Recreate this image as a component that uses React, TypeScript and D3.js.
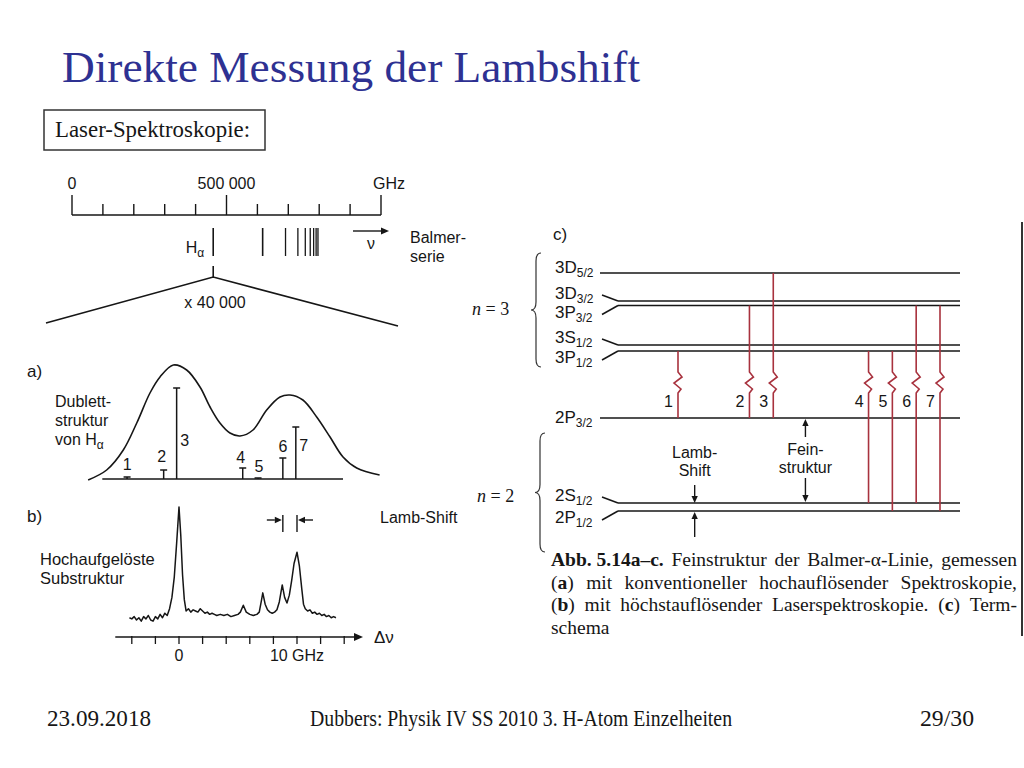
import React, { useEffect, useRef } from 'react';
import * as d3 from 'd3';

// ---------- overview: Balmer series (THz = 1000 GHz)
const overviewTicks = [0, 100, 200, 300, 400, 500, 600, 700, 800, 900, 1000];
const overviewMajor = [0, 500, 1000];
const overviewLabels = ['0', '500 000', 'GHz'];
const balmerLines = [457, 617, 691, 731, 755, 771, 782, 790, 796];
const halpha = 457;

// ---------- a) doublet structure (GHz, rel. intensity)
const envelopeGHz = [-7.7, -6.13, -4.72, -3.58, -2.46, -1.61, -0.48, 0.65, 1.78, 2.63, 3.47, 4.32, 5.17, 6.27, 7.43, 8.56, 9.41, 10.5, 11.67, 12.8, 13.9, 15.06, 17.0];
const envelopeVal = [-1, 9, 29, 56, 86, 102, 114, 109, 92, 72, 56, 46, 43, 49, 69, 82, 84, 79, 62, 42, 22, 11, 4];
const stickLabels = ['1', '2', '3', '4', '5', '6', '7'];
const stickGHz = [-4.4, -1.3, -0.2, 5.4, 6.7, 8.8, 9.9];
const stickVal = [2, 9, 91, 11, 1, 21, 52];

// ---------- b) laser spectrum
const specGHz = [-4.2, -4.0, -3.8, -3.6, -3.4, -3.2, -3.0, -2.8, -2.6, -2.4, -2.2, -2.0, -1.8, -1.6, -1.4, -1.2, -1.0, -0.8, -0.6, -0.4, -0.2, 0, 0.15, 0.3, 0.45, 0.6, 0.8, 1.0, 1.2, 1.4, 1.6, 1.8, 2.0, 2.2, 2.4, 2.6, 2.8, 3.0, 3.2, 3.5, 3.8, 4.1, 4.4, 4.7, 5.0, 5.2, 5.45, 5.7, 6.0, 6.3, 6.6, 6.8, 7.0, 7.1, 7.3, 7.5, 7.7, 7.9, 8.1, 8.3, 8.5, 8.75, 8.95, 9.15, 9.35, 9.55, 9.75, 10.0, 10.2, 10.4, 10.55, 10.7, 10.9, 11.1, 11.3, 11.5, 11.7, 11.9, 12.1, 12.3, 12.5, 12.7, 12.9, 13.1, 13.3];
const specVal = [2, 1, 3, 0, 2, -1, 3, 1, 4, 0, -1, 3, 1, 5, 2, 6, 4, 10, 20, 38, 68, 100, 75, 40, 18, 8, 10, 7, 9, 8, 7, 10, 8, 6, 7, 5, 6, 5, 4, 5, 4, 5, 3, 4, 5, 7, 13, 7, 5, 4, 5, 7, 18, 24, 14, 9, 7, 6, 7, 9, 16, 31, 20, 15, 22, 35, 50, 60, 48, 28, 14, 10, 8, 9, 6, 7, 5, 6, 4, 5, 3, 4, 2, 3, 2];
const specTicks = [-4, -2, 0, 2, 4, 6, 8, 10, 12, 14];
const specTickLabels: Record<number, string> = { 0: '0', 10: '10 GHz' };
const lambShiftGHz = [8.8, 10];

// ---------- c) term scheme (schematic energies)
const levelMain = ['3D', '3D', '3P', '3S', '3P', '2P', '2S', '2P'];
const levelSub = ['5/2', '3/2', '3/2', '1/2', '1/2', '3/2', '1/2', '1/2'];
const levelEnergy = [98.8, 87.6, 85.8, 70, 67.6, 40.8, 6.8, 3.6];
const levelSplit = [0, -1, 1, -1, 1, 0, -1, 1];
const transitionLabels = ['1', '2', '3', '4', '5', '6', '7'];
const transitionColumn = [0, 3, 4, 8, 9, 10, 11];
const transitionFrom = [4, 2, 0, 4, 4, 2, 2];
const transitionTo = [5, 5, 5, 6, 7, 6, 7];
const lambCol = 0.7;
const feinCol = 5.35;

// ---------- caption
const captionLines = [
  '*Abb.\u00a05.14a–c.* Feinstruktur der Balmer-α-Linie, gemessen',
  '(*a*) mit konventioneller hochauflösender Spektroskopie,',
  '(*b*) mit höchstauflösender Laserspektroskopie. (*c*) Term-',
  'schema',
];

const sans = '"Liberation Sans", Arial, Helvetica, sans-serif';
const serif = '"Liberation Serif", "Times New Roman", serif';
const ink = '#161616';
const red = '#a8323e';
const sw = 1.6;

const xTop = d3.scaleLinear().domain([0, 1000]).range([72, 381]);
const xG = d3.scaleLinear().domain([0, 10]).range([179, 297]);
const yA = d3.scaleLinear().domain([0, 100]).range([479, 379]);
const yB = d3.scaleLinear().domain([0, 100]).range([620, 507]);
const yE = d3.scaleLinear().domain([0, 100]).range([520, 270]);
const xCol = d3.scaleLinear().domain([0, 11]).range([678, 940]);

const capLeft = 551;
const capRight = 1017;

function Arrow({ x1, y1, x2, y2, color = ink, size = 7 }: any) {
  const a = Math.atan2(y2 - y1, x2 - x1);
  const w = size * 0.45;
  const bx = x2 - size * Math.cos(a);
  const by = y2 - size * Math.sin(a);
  const p = [
    [x2, y2],
    [bx + w * Math.sin(a), by - w * Math.cos(a)],
    [bx - w * Math.sin(a), by + w * Math.cos(a)],
  ];
  return (
    <g>
      <line x1={x1} y1={y1} x2={bx} y2={by} stroke={color} strokeWidth={1.4} />
      <path d={`M${p[0]}L${p[1]}L${p[2]}Z`} fill={color} />
    </g>
  );
}

function bracePath(x: number, y0: number, y1: number, w = 5) {
  const m = (y0 + y1) / 2;
  return `M${x + w},${y0} Q${x},${y0} ${x},${y0 + w * 1.6} L${x},${m - w * 1.6} Q${x},${m} ${x - w},${m} Q${x},${m} ${x},${m + w * 1.6} L${x},${y1 - w * 1.6} Q${x},${y1} ${x + w},${y1}`;
}

function RichWord({ word }: { word: string }) {
  const parts = word.split('*');
  return (
    <>
      {parts.map((p, i) =>
        p ? (
          <tspan key={i} fontWeight={i % 2 === 1 ? 'bold' : 'normal'}>
            {p}
          </tspan>
        ) : null
      )}
    </>
  );
}

function Caption() {
  const ref = useRef<SVGGElement>(null);
  useEffect(() => {
    const g = d3.select(ref.current);
    g.selectAll<SVGGElement, unknown>('g.cap-line').each(function () {
      const line = d3.select(this);
      const justify = line.attr('data-justify') === '1';
      const words = line.selectAll<SVGTextElement, unknown>('text').nodes();
      const widths = words.map((w) => w.getComputedTextLength());
      const total = d3.sum(widths);
      const gap = justify && words.length > 1 ? (capRight - capLeft - total) / (words.length - 1) : 5;
      let x = capLeft;
      words.forEach((w, i) => {
        w.setAttribute('x', String(x));
        x += widths[i] + gap;
      });
    });
  }, []);
  return (
    <g ref={ref} fontFamily={serif} fontSize={19.5} fill={ink}>
      {captionLines.map((ln, li) => (
        <g key={li} className="cap-line" data-justify={li < captionLines.length - 1 ? '1' : '0'}>
          {ln.split(' ').map((w, wi) => (
            <text key={wi} x={capLeft} y={566 + li * 22.5}>
              <RichWord word={w} />
            </text>
          ))}
        </g>
      ))}
    </g>
  );
}

function Overview() {
  const axisY = 215;
  const apex = xTop(halpha);
  return (
    <g fontFamily={sans} fill={ink}>
      <line x1={xTop(0)} x2={xTop(1000)} y1={axisY} y2={axisY} stroke={ink} strokeWidth={sw} />
      {overviewTicks.map((t) => (
        <line key={t} x1={xTop(t)} x2={xTop(t)} y1={axisY} y2={overviewMajor.includes(t) ? axisY - 20 : axisY - 11} stroke={ink} strokeWidth={1.4} />
      ))}
      {overviewMajor.map((t, i) => (
        <text key={t} x={xTop(t) + (i === 2 ? 8 : 0)} y={189} fontSize={16} textAnchor="middle">
          {overviewLabels[i]}
        </text>
      ))}
      {balmerLines.map((f, i) => (
        <line key={f} x1={xTop(f)} x2={xTop(f)} y1={228} y2={256} stroke={ink} strokeWidth={i < 2 ? 1.6 : 1.3} />
      ))}
      <line x1={apex} x2={apex} y1={266} y2={277} stroke={ink} strokeWidth={sw} />
      <path d={`M46,323 L${apex},277 L398,326`} fill="none" stroke={ink} strokeWidth={sw} />
      <text x={apex - 9} y={253} fontSize={16} textAnchor="end">
        H<tspan fontSize={12} dy={4}>α</tspan>
      </text>
      <text x={215} y={308} fontSize={16} textAnchor="middle">x 40 000</text>
      <Arrow x1={353} y1={231} x2={389} y2={231} size={8} />
      <text x={371} y={249} fontSize={16} textAnchor="middle">ν</text>
      <text x={410} y={243} fontSize={16}>Balmer-</text>
      <text x={410} y={262} fontSize={16}>serie</text>
    </g>
  );
}

function PanelA() {
  const pts: [number, number][] = envelopeGHz.map((g, i) => [xG(g), yA(envelopeVal[i])]);
  const env = d3.line().curve(d3.curveCatmullRom.alpha(0.5))(pts) as string;
  const labelDx = [0, -2, 8, -2, 1, 0, 8];
  const labelDy = [-7, -8, -19, -5, -6, -6, -14];
  return (
    <g fontFamily={sans} fill={ink}>
      <text x={27} y={377} fontSize={17}>a)</text>
      <text x={55} y={407} fontSize={16}>Dublett-</text>
      <text x={55} y={426} fontSize={16}>struktur</text>
      <text x={55} y={445} fontSize={16}>
        von  H<tspan fontSize={12} dy={4}>α</tspan>
      </text>
      <line x1={xG(-6.5)} x2={xG(13.9)} y1={yA(0)} y2={yA(0)} stroke={ink} strokeWidth={sw} />
      <path d={env} fill="none" stroke={ink} strokeWidth={sw} />
      {stickGHz.map((g, i) => (
        <g key={i}>
          <line x1={xG(g)} x2={xG(g)} y1={yA(0)} y2={yA(stickVal[i])} stroke={ink} strokeWidth={1.5} />
          <line x1={xG(g) - 3.5} x2={xG(g) + 3.5} y1={yA(stickVal[i])} y2={yA(stickVal[i])} stroke={ink} strokeWidth={1.5} />
          <text
            x={xG(g) + labelDx[i]}
            y={i === 2 || i === 6 ? yA(0) + labelDy[i] - 14 : yA(stickVal[i]) + labelDy[i]}
            fontSize={16}
            textAnchor="middle"
          >
            {stickLabels[i]}
          </text>
        </g>
      ))}
    </g>
  );
}

function PanelB() {
  const pts: [number, number][] = specGHz.map((g, i) => [xG(g), yB(specVal[i])]);
  const spec = d3.line()(pts) as string;
  const axisY = 637;
  const [l1, l2] = lambShiftGHz.map((g) => xG(g));
  return (
    <g fontFamily={sans} fill={ink}>
      <text x={27} y={522} fontSize={17}>b)</text>
      <text x={40} y={565} fontSize={16.5}>Hochaufgelöste</text>
      <text x={40} y={584} fontSize={16.5}>Substruktur</text>
      <path d={spec} fill="none" stroke={ink} strokeWidth={1.5} strokeLinejoin="round" />
      <Arrow x1={xG(-5.4)} y1={axisY} x2={363} y2={axisY} size={9} />
      {specTicks.map((t) => (
        <line key={t} x1={xG(t)} x2={xG(t)} y1={axisY - 1} y2={axisY + 7} stroke={ink} strokeWidth={1.3} />
      ))}
      {specTicks
        .filter((t) => specTickLabels[t])
        .map((t) => (
          <text key={t} x={xG(t)} y={661} fontSize={16} textAnchor="middle">
            {specTickLabels[t]}
          </text>
        ))}
      <text x={374} y={643} fontSize={17}>Δν</text>
      <line x1={l1} x2={l1} y1={515} y2={532} stroke={ink} strokeWidth={1.4} />
      <line x1={l2} x2={l2} y1={515} y2={532} stroke={ink} strokeWidth={1.4} />
      <Arrow x1={l1 - 16} y1={520} x2={l1 - 1} y2={520} size={7} />
      <Arrow x1={l2 + 16} y1={520} x2={l2 + 1} y2={520} size={7} />
      <text x={380} y={523} fontSize={16}>Lamb-Shift</text>
    </g>
  );
}

function PanelC() {
  const lineStart = 618;
  const lineEnd = 960;
  const ly = (i: number) => yE(levelEnergy[i]);
  const zig = (x: number, y0: number, y1: number) =>
    `M${x},${y0} L${x},372 L${x + 4},377 L${x - 4},383 L${x + 3},389 L${x},393 L${x},${y1}`;
  return (
    <g fontFamily={sans} fill={ink}>
      <text x={553} y={240} fontSize={17}>c)</text>
      {levelEnergy.map((e, i) => {
        const y = ly(i);
        const s = levelSplit[i];
        const labY = s === 0 ? y + (i === 0 ? 0 : 5) : s < 0 ? y - 2 : y + 12;
        return (
          <g key={i}>
            <line x1={s === 0 ? 600 : lineStart} x2={lineEnd} y1={y} y2={y} stroke={ink} strokeWidth={sw} />
            {s !== 0 && <line x1={602} y1={s < 0 ? y - 6 : y + 9} x2={lineStart} y2={y} stroke={ink} strokeWidth={1.5} />}
            <text x={555} y={labY} fontSize={17}>
              {levelMain[i]}
              <tspan fontSize={12} dy={4}>{levelSub[i]}</tspan>
            </text>
          </g>
        );
      })}
      {transitionColumn.map((c, i) => {
        const x = xCol(c);
        return (
          <g key={i}>
            <path d={zig(x, ly(transitionFrom[i]), ly(transitionTo[i]))} fill="none" stroke={red} strokeWidth={1.6} />
            <text x={x - 5} y={407} fontSize={16} textAnchor="end">{transitionLabels[i]}</text>
          </g>
        );
      })}
      {/* Lamb shift and fine structure markers */}
      <Arrow x1={xCol(lambCol)} y1={485} x2={xCol(lambCol)} y2={ly(6)} size={7} />
      <Arrow x1={xCol(lambCol)} y1={537} x2={xCol(lambCol)} y2={ly(7) + 1} size={7} />
      <text x={xCol(lambCol)} y={458} fontSize={16} textAnchor="middle">Lamb-</text>
      <text x={xCol(lambCol)} y={476} fontSize={16} textAnchor="middle">Shift</text>
      <Arrow x1={xCol(feinCol)} y1={437} x2={xCol(feinCol)} y2={ly(5) + 1} size={7} />
      <Arrow x1={xCol(feinCol)} y1={478} x2={xCol(feinCol)} y2={ly(6) - 1} size={7} />
      <text x={xCol(feinCol)} y={455} fontSize={16} textAnchor="middle">Fein-</text>
      <text x={xCol(feinCol)} y={473} fontSize={16} textAnchor="middle">struktur</text>
      <line x1={1022} x2={1022} y1={222} y2={636} stroke="#333" strokeWidth={2} />
      {/* n braces */}
      <path d={bracePath(536, 253, 367)} fill="none" stroke="#333" strokeWidth={1.2} />
      <path d={bracePath(540, 433, 552)} fill="none" stroke="#333" strokeWidth={1.2} />
      <text x={472} y={315} fontFamily={serif} fontSize={18}>
        <tspan fontStyle="italic">n</tspan> = 3
      </text>
      <text x={477} y={502} fontFamily={serif} fontSize={18}>
        <tspan fontStyle="italic">n</tspan> = 2
      </text>
    </g>
  );
}

export default function App() {
  return (
    <svg width={1024} height={768} style={{ position: 'absolute', left: 0, top: 0, background: '#fff' }}>
      <rect width={1024} height={768} fill="#fff" />
      <text x={62} y={82} fontFamily={serif} fontSize={45} fill="#2e3192" textLength={578} lengthAdjust="spacingAndGlyphs">
        Direkte Messung der Lambshift
      </text>
      <rect x={44} y={110} width={221} height={40} fill="none" stroke="#333" strokeWidth={1.5} />
      <text x={55} y={137} fontFamily={serif} fontSize={23} fill={ink} textLength={195} lengthAdjust="spacingAndGlyphs">
        Laser-Spektroskopie:
      </text>
      <Overview />
      <PanelA />
      <PanelB />
      <PanelC />
      <Caption />
      <g fontFamily={serif} fontSize={24} fill={ink}>
        <text x={47} y={726} textLength={104} lengthAdjust="spacingAndGlyphs">23.09.2018</text>
        <text x={310} y={726} textLength={422} lengthAdjust="spacingAndGlyphs">Dubbers: Physik IV SS 2010 3. H-Atom Einzelheiten</text>
        <text x={920} y={726} textLength={54} lengthAdjust="spacingAndGlyphs">29/30</text>
      </g>
    </svg>
  );
}
